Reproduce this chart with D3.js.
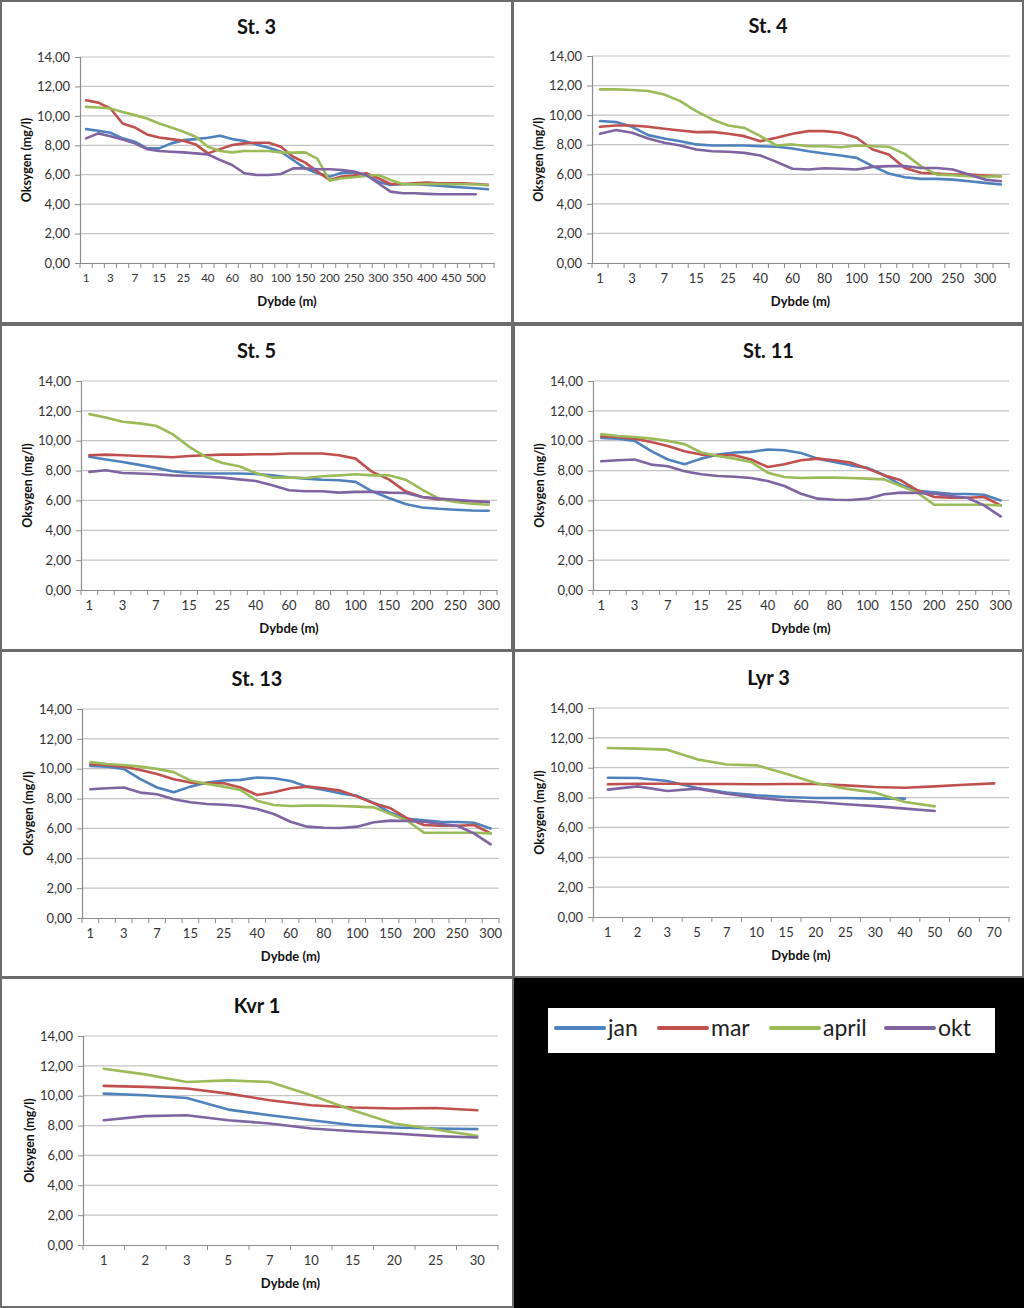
<!DOCTYPE html>
<html><head><meta charset="utf-8">
<script src="https://cdn.jsdelivr.net/npm/d3@7"></script>
<style>
body{margin:0;background:#fff;}
svg{display:block;font-family:Lato,"Open Sans",sans-serif;}
</style></head>
<body><svg id="c" width="1024" height="1308"></svg>
<script>
// ---------- data ----------
const seriesNames = ["jan","mar","april","okt"];
const seriesColors = ["#4F81BD","#C0504D","#9BBB59","#8064A2"];
const yTicks = [0,2,4,6,8,10,12,14];

const depthSt3 = ["1","2","3","5","7","10","15","20","25","30","40","50","60","70","80","90","100","125","150","175","200","225","250","275","300","325","350","375","400","425","450","475","500","550"];
const depthSt4 = ["1","2","3","5","7","10","15","20","25","30","40","50","60","70","80","90","100","125","150","175","200","225","250","275","300","325"];
const depth300 = ["1","2","3","5","7","10","15","20","25","30","40","50","60","70","80","90","100","125","150","175","200","225","250","275","300"];
const depthLyr3 = ["1","2","3","5","7","10","15","20","25","30","40","50","60","70"];
const depthKvr1 = ["1","2","3","5","7","10","15","20","25","30"];

const st3Jan = [9.10,8.99,8.85,8.47,8.24,7.79,7.79,8.13,8.35,8.42,8.51,8.65,8.42,8.29,8.06,7.83,7.56,7.00,6.43,6.10,5.87,6.14,6.16,5.98,5.53,5.30,5.37,5.35,5.30,5.26,5.19,5.13,5.08,5.01];
const st3Mar = [11.06,10.90,10.50,9.48,9.21,8.74,8.53,8.42,8.31,8.06,7.45,7.74,8.02,8.13,8.17,8.17,7.90,7.22,6.82,6.21,5.64,5.87,5.94,6.10,5.76,5.37,5.37,5.42,5.46,5.42,5.42,5.42,5.37,5.31];
const st3Apr = [10.61,10.57,10.50,10.27,10.05,9.82,9.48,9.21,8.92,8.58,7.90,7.61,7.52,7.61,7.61,7.61,7.52,7.50,7.52,7.07,5.60,5.76,5.83,5.92,5.98,5.64,5.37,5.35,5.37,5.37,5.35,5.35,5.33,5.28];
const st3Okt = [8.47,8.81,8.62,8.40,8.13,7.74,7.61,7.56,7.52,7.45,7.38,7.00,6.66,6.10,5.98,5.98,6.05,6.43,6.43,6.37,6.37,6.32,6.21,5.98,5.42,4.85,4.74,4.74,4.70,4.67,4.67,4.67,4.67,null];

const st4Jan = [9.60,9.53,9.21,8.65,8.42,8.24,8.02,7.95,7.95,7.95,7.90,7.86,7.74,7.56,7.41,7.27,7.11,6.55,6.05,5.80,5.69,5.69,5.64,5.53,5.42,5.31];
const st4Mar = [9.21,9.30,9.30,9.21,9.08,8.96,8.85,8.87,8.74,8.58,8.24,8.47,8.74,8.92,8.92,8.81,8.47,7.68,7.34,6.43,6.10,6.05,5.98,5.98,5.92,5.87];
const st4Apr = [11.74,11.74,11.70,11.63,11.40,10.95,10.27,9.71,9.30,9.14,8.58,7.95,8.02,7.90,7.90,7.83,7.95,7.90,7.86,7.38,6.55,5.98,5.94,5.87,5.83,5.87];
const st4Okt = [8.74,8.99,8.81,8.42,8.13,7.95,7.68,7.56,7.52,7.45,7.27,6.84,6.37,6.32,6.41,6.37,6.32,6.50,6.55,6.55,6.43,6.43,6.32,5.98,5.64,5.53];

const st5Jan = [8.92,8.74,8.58,8.38,8.18,7.95,7.84,7.80,7.80,7.80,7.77,7.68,7.55,7.46,7.39,7.35,7.24,6.61,6.16,5.76,5.53,5.44,5.38,5.33,5.31];
const st5Mar = [9.03,9.07,9.03,8.98,8.94,8.89,8.98,9.03,9.07,9.07,9.09,9.09,9.14,9.14,9.14,9.03,8.80,7.91,7.41,6.61,6.23,6.07,6.00,5.94,5.89];
const st5Apr = [11.78,11.56,11.27,11.16,11.00,10.44,9.59,8.92,8.51,8.29,7.84,7.53,7.53,7.50,7.62,7.68,7.75,7.68,7.68,7.39,6.72,6.12,5.89,5.78,5.71];
const st5Okt = [7.91,8.02,7.84,7.80,7.75,7.68,7.64,7.59,7.53,7.41,7.30,7.01,6.68,6.61,6.61,6.52,6.57,6.57,6.52,6.50,6.23,6.12,6.05,5.96,5.89];

const st11Jan = [10.19,10.14,9.99,9.30,8.74,8.42,8.80,9.07,9.21,9.25,9.41,9.36,9.18,8.80,8.58,8.35,8.18,7.70,7.05,6.65,6.55,6.45,6.43,6.38,6.00];
const st11Mar = [10.30,10.25,10.14,9.92,9.65,9.30,9.07,9.03,9.03,8.74,8.24,8.42,8.69,8.80,8.69,8.53,8.13,7.68,7.35,6.68,6.23,6.18,6.18,6.23,5.67];
const st11Apr = [10.44,10.32,10.25,10.14,9.99,9.77,9.21,8.98,8.80,8.58,7.86,7.57,7.50,7.53,7.53,7.50,7.46,7.41,6.97,6.52,5.71,5.71,5.71,5.71,5.67];
const st11Okt = [8.62,8.69,8.74,8.40,8.29,7.95,7.75,7.64,7.59,7.50,7.30,6.97,6.45,6.12,6.05,6.03,6.12,6.41,6.52,6.50,6.45,6.30,6.18,5.67,4.93];

const st13Jan = [10.19,10.14,9.99,9.30,8.74,8.42,8.80,9.07,9.21,9.25,9.41,9.36,9.18,8.80,8.58,8.35,8.18,7.70,7.05,6.65,6.55,6.45,6.43,6.38,6.00];
const st13Mar = [10.30,10.25,10.14,9.92,9.65,9.30,9.07,9.03,9.03,8.74,8.24,8.42,8.69,8.80,8.69,8.53,8.13,7.68,7.35,6.68,6.23,6.18,6.18,6.23,5.67];
const st13Apr = [10.44,10.32,10.25,10.14,9.99,9.77,9.21,8.98,8.80,8.58,7.86,7.57,7.50,7.53,7.53,7.50,7.46,7.41,6.97,6.52,5.71,5.71,5.71,5.71,5.67];
const st13Okt = [8.62,8.69,8.74,8.40,8.29,7.95,7.75,7.64,7.59,7.50,7.30,6.97,6.45,6.12,6.05,6.03,6.12,6.41,6.52,6.50,6.45,6.30,6.18,5.67,4.93];

const lyr3Jan = [9.33,9.31,9.11,8.64,8.33,8.15,8.04,7.97,7.97,7.93,7.93,null,null,null];
const lyr3Mar = [8.89,8.93,8.93,8.91,8.91,8.89,8.91,8.91,8.82,8.71,8.66,8.75,8.86,8.95];
const lyr3Apr = [11.32,11.28,11.21,10.56,10.22,10.16,9.60,8.98,8.60,8.33,7.70,7.41,null,null];
const lyr3Okt = [8.53,8.75,8.44,8.60,8.26,7.99,7.81,7.70,7.55,7.43,7.26,7.10,null,null];

const kvr1Jan = [10.14,10.03,9.85,9.07,8.69,8.36,8.03,7.87,7.80,7.76];
const kvr1Mar = [10.66,10.59,10.48,10.14,9.70,9.36,9.21,9.14,9.18,9.03];
const kvr1Apr = [11.81,11.43,10.92,11.03,10.92,10.03,9.03,8.14,7.74,7.31];
const kvr1Okt = [8.36,8.63,8.69,8.36,8.14,7.80,7.62,7.47,7.29,7.20];

// ---------- layout ----------
const panels = [
  {title:"St. 3", cats:depthSt3, series:[st3Jan,st3Mar,st3Apr,st3Okt], box:[1,1,511,322], plot:[80,57,494,263], every:2, xfs:11.6},
  {title:"St. 4", cats:depthSt4, series:[st4Jan,st4Mar,st4Apr,st4Okt], box:[513,1,510,322], plot:[592,56,1009,263], every:2, xfs:13},
  {title:"St. 5", cats:depth300, series:[st5Jan,st5Mar,st5Apr,st5Okt], box:[1,325,511,325], plot:[81,381,497,590], every:2, xfs:13},
  {title:"St. 11", cats:depth300, series:[st11Jan,st11Mar,st11Apr,st11Okt], box:[514,325,509,325], plot:[593,381,1009,590], every:2, xfs:13},
  {title:"St. 13", cats:depth300, series:[st13Jan,st13Mar,st13Apr,st13Okt], box:[1,651,512,326], plot:[82,709,499,918], every:2, xfs:13},
  {title:"Lyr 3", cats:depthLyr3, series:[lyr3Jan,lyr3Mar,lyr3Apr,lyr3Okt], box:[514,651,509,326], plot:[593,708,1009,917], every:1, xfs:13},
  {title:"Kvr 1", cats:depthKvr1, series:[kvr1Jan,kvr1Mar,kvr1Apr,kvr1Okt], box:[1,978,512,329], plot:[83,1036,498,1245], every:1, xfs:13}
];

const svg = d3.select("#c");
svg.append("rect").attr("x",0).attr("y",0).attr("width",1024).attr("height",1308).attr("fill","#fff");

// legend black area
svg.append("rect").attr("x",514).attr("y",978).attr("width",510).attr("height",330).attr("fill","#000");

const fmt = v => d3.format(".2f")(v).replace(".",",");

panels.forEach(p => {
  const [bx,by,bw,bh] = p.box;
  svg.append("rect").attr("x",bx).attr("y",by).attr("width",bw).attr("height",bh)
    .attr("fill","#fff").attr("stroke","#6b6b6b").attr("stroke-width",2);
  const [x0,y0,x1,y1] = p.plot;
  const x = d3.scaleBand().domain(p.cats).range([x0,x1]).padding(0);
  const y = d3.scaleLinear().domain([0,14]).range([y1,y0]);
  const g = svg.append("g");

  // gridlines
  g.selectAll("line.grid").data(yTicks.filter(t=>t>0)).join("line")
    .attr("x1",x0).attr("x2",x1).attr("y1",d=>y(d)).attr("y2",d=>y(d))
    .attr("stroke","#c3c3c3").attr("stroke-width",1.2);

  // y axis
  const ya = g.append("g").attr("transform",`translate(${x0},0)`)
    .call(d3.axisLeft(y).tickValues(yTicks).tickFormat(fmt).tickSize(5).tickPadding(5));
  ya.select(".domain").attr("stroke","#8c8c8c").attr("stroke-width",1.2);
  ya.selectAll(".tick line").attr("stroke","#8c8c8c");
  ya.selectAll("text").attr("font-size",13).attr("fill","#333").attr("font-family","Lato,sans-serif");

  // x axis labels
  const shown = p.cats.filter((c,i)=> i % p.every === 0);
  const xa = g.append("g").attr("transform",`translate(0,${y1})`)
    .call(d3.axisBottom(x).tickValues(shown).tickSize(0).tickPadding(11));
  xa.select(".domain").attr("stroke","#8c8c8c").attr("stroke-width",1.2);
  xa.selectAll("text").attr("font-size",p.xfs).attr("fill","#333").attr("font-family","Lato,sans-serif");
  // category boundary ticks
  const bounds = p.cats.map(c=>x(c)).concat([x1]);
  g.selectAll("line.xt").data(bounds).join("line")
    .attr("x1",d=>d).attr("x2",d=>d).attr("y1",y1).attr("y2",y1+5)
    .attr("stroke","#8c8c8c").attr("stroke-width",1);

  // lines
  p.series.forEach((vals,si) => {
    const pts = p.cats.map((c,i)=>({c, v: vals[i]}));
    const line = d3.line().defined(d=>d.v!=null)
      .x(d=>x(d.c)+x.bandwidth()/2).y(d=>y(d.v));
    g.append("path").datum(pts).attr("d",line).attr("fill","none")
      .attr("stroke",seriesColors[si]).attr("stroke-width",2.6)
      .attr("stroke-linejoin","round").attr("stroke-linecap","round");
  });

  // titles
  svg.append("text").attr("x",bx+bw/2).attr("y",y0-23).attr("text-anchor","middle")
    .attr("font-size",20).attr("font-weight","bold").attr("fill","#111").text(p.title);
  svg.append("text").attr("x",(x0+x1)/2).attr("y",y1+43).attr("text-anchor","middle")
    .attr("font-size",13).attr("font-weight","bold").attr("fill","#111").text("Dybde (m)");
  svg.append("text").attr("transform",`translate(${x0-49},${(y0+y1)/2}) rotate(-90)`)
    .attr("text-anchor","middle").attr("font-size",12.5).attr("font-weight","bold")
    .attr("fill","#111").text("Oksygen (mg/l)");
});

// legend
const lg = svg.append("g");
lg.append("rect").attr("x",548).attr("y",1008).attr("width",447).attr("height",45).attr("fill","#fff");
const legX = [556,659,771,886];
seriesNames.forEach((n,i)=>{
  lg.append("line").attr("x1",legX[i]).attr("x2",legX[i]+48).attr("y1",1028).attr("y2",1028)
    .attr("stroke",seriesColors[i]).attr("stroke-width",4).attr("stroke-linecap","round");
  lg.append("text").attr("x",legX[i]+52).attr("y",1036).attr("font-size",23)
    .attr("fill","#222").text(n);
});
</script></body></html>
